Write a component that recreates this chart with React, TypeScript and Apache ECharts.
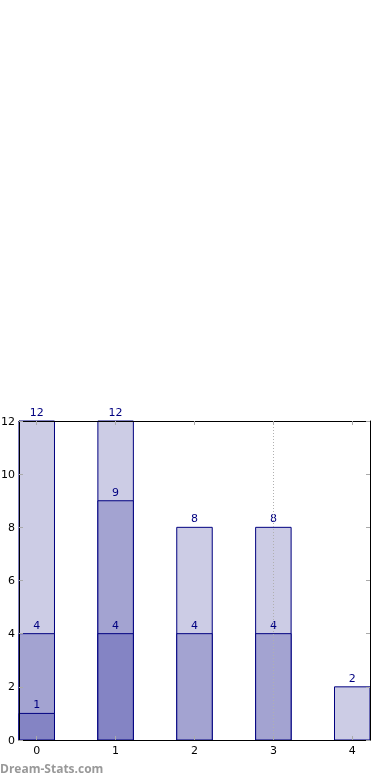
import React, { useEffect, useRef } from "react";
import * as echarts from "echarts";

const categories = [0, 1, 2, 3, 4];
const lightValues = [12, 12, 8, 8, 2];
const mediumValues = [4, 9, 4, 4, null];
const darkValues = [1, 4, null, null, null];
const yTicks = [0, 2, 4, 6, 8, 10, 12];
const markX = 3;
const barHalfWidth = 0.225;

const pairs = (vals: (number | null)[]) =>
  categories
    .map((c, i) => (vals[i] == null ? null : [c, vals[i]]))
    .filter((d) => d !== null);

export default function App() {
  const ref = useRef<HTMLDivElement>(null);
  useEffect(() => {
    if (!ref.current) return;
    const chart = echarts.init(ref.current, null, { renderer: "svg" });
    const font = "DejaVu Sans";
    const tickStyle = { show: true, inside: true, length: 4, lineStyle: { color: "#aaaaaa", width: 1 } };
    const intFmt = (v: number) => (Math.abs(v - Math.round(v)) < 1e-6 ? String(Math.round(v)) : "");
    const axisLine = { show: true, onZero: false, lineStyle: { color: "#000000", width: 1 } };
    const xBase = {
      type: "value" as const,
      min: -barHalfWidth,
      max: 4 + barHalfWidth,
      z: 10,
      splitLine: { show: false },
      axisLine,
    };
    const makeSeries = (vals: (number | null)[], color: string, z: number, extra: any = {}) => ({
      type: "custom",
      z,
      data: pairs(vals),
      encode: { x: 0, y: 1 },
      renderItem: (params: any, api: any) => {
        const x = api.value(0);
        const y = api.value(1);
        const p0 = api.coord([x - barHalfWidth, y]);
        const p1 = api.coord([x + barHalfWidth, 0]);
        return {
          type: "group",
          children: [
            {
              type: "rect",
              shape: { x: p0[0], y: p0[1], width: p1[0] - p0[0], height: p1[1] - p0[1] },
              style: { fill: color, stroke: "#000080", lineWidth: 1 },
            },
            {
              type: "text",
              x: (p0[0] + p1[0]) / 2,
              y: p0[1] - 3,
              style: {
                text: String(y),
                fill: "#000080",
                font: `11px '${font}'`,
                align: "center",
                verticalAlign: "bottom",
              },
            },
          ],
        };
      },
      ...extra,
    });
    chart.setOption({
      animation: false,
      grid: { left: 19, right: 20, top: 421, bottom: 40, containLabel: false, outerBoundsMode: "none" },
      xAxis: [
        {
          ...xBase,
          position: "bottom",
          axisLabel: { formatter: intFmt, color: "#000", fontSize: 11, fontFamily: font, margin: 5 },
          axisTick: { ...tickStyle, customValues: categories },
        },
        {
          ...xBase,
          position: "top",
          axisLabel: { show: false },
          axisTick: { ...tickStyle, customValues: categories },
        },
      ],
      yAxis: [
        {
          type: "value",
          min: 0,
          max: 12,
          interval: 2,
          position: "left",
          z: 10,
          splitLine: { show: false },
          axisLine,
          axisTick: tickStyle,
          axisLabel: {
            color: "#000",
            fontSize: 11,
            fontFamily: font,
            margin: 4,
            formatter: (v: number) => (yTicks.includes(v) ? String(v) : ""),
          },
        },
        {
          type: "value",
          min: 0,
          max: 12,
          interval: 2,
          position: "right",
          z: 10,
          splitLine: { show: false },
          axisLine,
          axisTick: tickStyle,
          axisLabel: { show: false },
        },
      ],
      series: [
        makeSeries(lightValues, "#ccccE5", 2),
        makeSeries(mediumValues, "#a3a3d1", 3),
        makeSeries(darkValues, "#8484c4", 4, {
          markLine: {
            silent: true,
            symbol: ["none", "none"],
            label: { show: false },
            z: 6,
            lineStyle: { color: "#b0b0b0", type: [1, 2], width: 1 },
            data: [{ xAxis: markX }],
          },
        }),
      ],
      graphic: [
        {
          type: "text",
          left: 0,
          top: 762,
          style: {
            text: "Dream-Stats.com",
            fill: "#999999",
            font: "bold 12px 'Open Sans'",
          },
        },
      ],
    });
    return () => chart.dispose();
  }, []);
  return (
    <div
      ref={ref}
      style={{ position: "fixed", left: 0, top: 0, width: 390, height: 780 }}
    />
  );
}
